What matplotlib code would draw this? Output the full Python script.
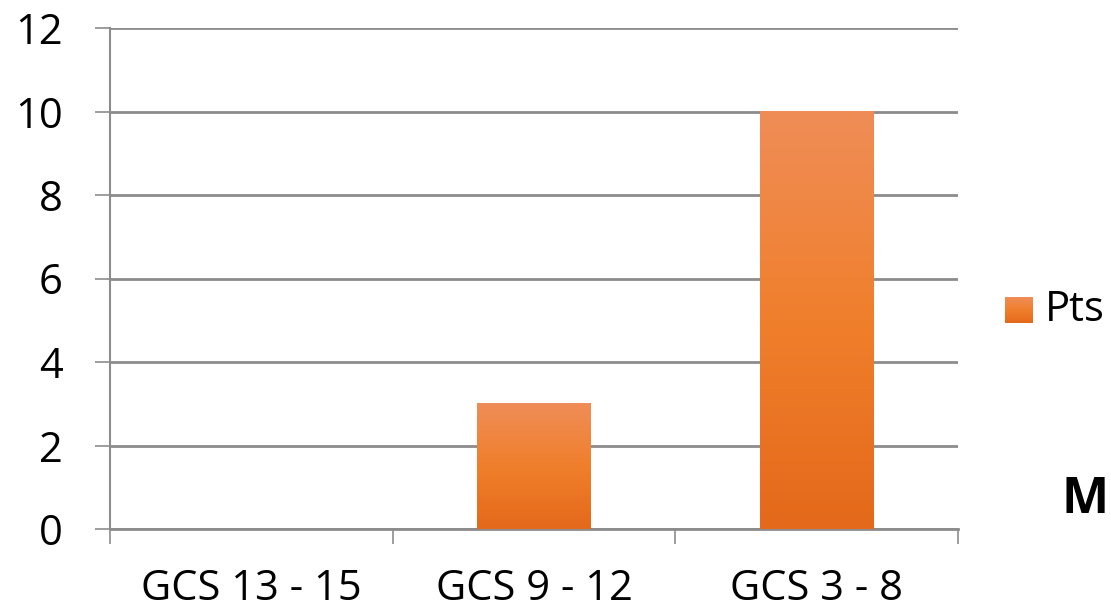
import numpy as np
import matplotlib.pyplot as plt
from matplotlib.colors import LinearSegmentedColormap

categories = ['GCS 13 - 15', 'GCS 9 - 12', 'GCS 3 - 8']
pts = [0, 3, 10]
series_name = 'Pts'

plt.rcParams['font.family'] = ['Open Sans', 'DejaVu Sans']

grid_col = '#8c8c8c'
orange = LinearSegmentedColormap.from_list(
    'orange', ['#e4691a', '#f07f2c', '#ef8d57'])

fig = plt.figure(figsize=(11.11, 6.11), dpi=100)
ax = fig.add_axes([110 / 1111, 82 / 611, 848 / 1111, 501 / 611])

x = np.arange(len(categories))
bars = ax.bar(x, pts, width=0.4, color='none', zorder=3)

# vertical gradient fill for each bar
grad = np.linspace(0, 1, 256).reshape(-1, 1)
for b in bars:
    h = b.get_height()
    if h <= 0:
        continue
    x0, w = b.get_x(), b.get_width()
    ax.imshow(grad, cmap=orange, origin='lower', aspect='auto',
              extent=(x0, x0 + w, 0, h), zorder=3, interpolation='bicubic')

ax.set_xlim(-0.5, len(categories) - 0.5)
ax.set_ylim(0, 12)
ax.set_yticks(range(0, 13, 2))
ax.yaxis.grid(True, color=grid_col, linewidth=2, zorder=0)
ax.set_axisbelow(True)

for s in ['top', 'right']:
    ax.spines[s].set_visible(False)
ax.spines['left'].set_color(grid_col)
ax.spines['left'].set_linewidth(1.5)
ax.spines['bottom'].set_color(grid_col)
ax.spines['bottom'].set_linewidth(2)

ax.set_xticks(x)
ax.set_xticklabels(categories)
ax.set_xticks(np.arange(len(categories) + 1) - 0.5, minor=True)
ax.tick_params(axis='x', which='major', length=0, pad=28, labelsize=30)
ax.tick_params(axis='x', which='minor', length=11, width=1.2, color=grid_col)
ax.tick_params(axis='y', length=11, width=1.2, color=grid_col, pad=23,
               labelsize=30)

# legend drawn by hand so the swatch keeps the gradient
lax = fig.add_axes([1005 / 1111, 1 - 323 / 611, 28 / 1111, 26 / 611])
lax.imshow(grad, cmap=orange, origin='lower', aspect='auto')
lax.axis('off')
fig.text(1045 / 1111, 1 - 310 / 611, series_name, fontsize=30, va='center')

fig.text(1061 / 1111, 1 - 500 / 611, 'M', fontsize=36, fontweight='bold',
         va='center')

fig.savefig('out.png', dpi=100)
